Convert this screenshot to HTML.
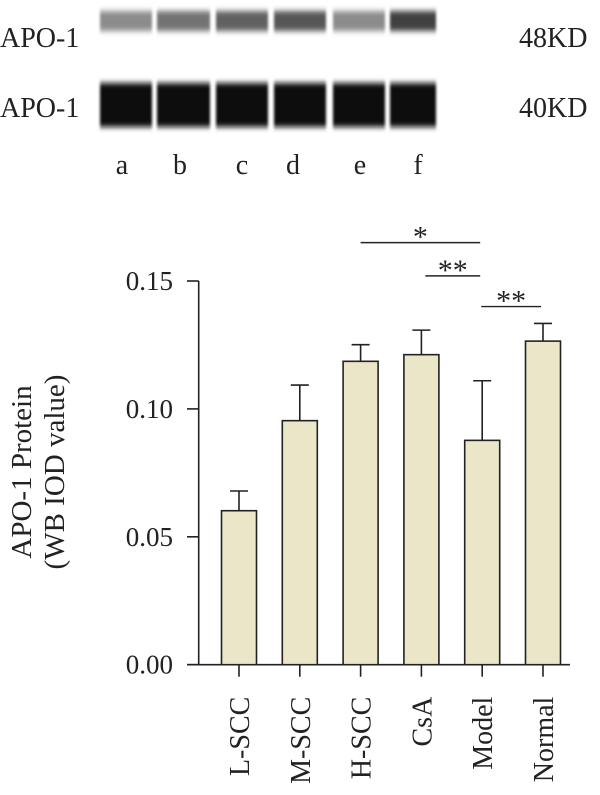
<!DOCTYPE html>
<html><head><meta charset="utf-8"><style>
body{margin:0;background:#fff;width:600px;height:790px;overflow:hidden;font-family:"Liberation Serif",serif;}
</style></head><body>
<svg width="600" height="790" xmlns="http://www.w3.org/2000/svg">
<defs><filter id="bl" x="-20%" y="-50%" width="140%" height="200%"><feGaussianBlur stdDeviation="1.2 3"/></filter></defs>
<g id="blot"></g>
<g font-family="Liberation Serif, serif" font-size="28" fill="#222">
<text x="0" y="47">APO-1</text>
<text x="0" y="117">APO-1</text>
<text x="519" y="47">48KD</text>
<text x="519" y="117">40KD</text>
</g>
<g id="lanes" font-family="Liberation Serif, serif" font-size="28" fill="#222" text-anchor="middle"></g>
<g id="chart"></g>
<g font-family="Liberation Serif, serif" font-size="29" fill="#222" text-anchor="middle">
<text transform="translate(31,472) rotate(-90)">APO-1 Protein</text>
<text transform="translate(64,472) rotate(-90)">(WB IOD value)</text>
</g>
</svg>
<script>
const NS='http://www.w3.org/2000/svg';
const lanes=['a','b','c','d','e','f'];
const topBandDark=[0.45,0.55,0.62,0.66,0.45,0.75];
const categories=['L-SCC','M-SCC','H-SCC','CsA','Model','Normal'];
const values=[0.0602,0.0954,0.1186,0.1212,0.0877,0.1265];
const errors=[0.0077,0.0139,0.0065,0.0096,0.0233,0.0069];
const yTicks=[0,0.05,0.10,0.15];
const yTickLabels=['0.00','0.05','0.10','0.15'];
const sigFrom=[2,3,4];
const sigTo=[4,4,5];
const sigLabels=['*','**','**'];
const sigLevel=[0.165,0.152,0.140];

function mk(tag,attrs,parent){const e=document.createElementNS(NS,tag);for(const k in attrs)e.setAttribute(k,attrs[k]);parent.appendChild(e);return e;}
const blot=document.getElementById('blot');
const laneX=[100,157,216,274,333,390], laneW=[52,53,52,52,52,46];
lanes.forEach((l,i)=>{
  const g=Math.round(255*(1-topBandDark[i]));
  let r=mk('rect',{x:laneX[i],y:11,width:laneW[i],height:20,fill:`rgb(${g},${g},${g})`,filter:'url(#bl)'},blot);
  
  
  let r2=mk('rect',{x:laneX[i],y:83,width:laneW[i],height:44,fill:'#080808',filter:'url(#bl)'},blot);
  
  
});
const lg=document.getElementById('lanes');
const lanesLX=[122,180,242,293,360,418];
lanes.forEach((l,i)=>{const t=mk('text',{x:lanesLX[i],y:174},lg);t.textContent=l;
  
  });
const ch=document.getElementById('chart');
const y0=664.7, pxPer=2558;
const y=v=>y0-v*pxPer;
const x=i=>239+i*60.8;
const bw=35;
const ax=mk('path',{d:`M198.7 ${y(0.15)} V${y0} M187 ${y0} H570`,stroke:'#222','stroke-width':1.6,fill:'none'},ch);


yTicks.forEach((v,i)=>{
  const tk=mk('line',{x1:187,x2:198.7,y1:y(v),y2:y(v),stroke:'#222','stroke-width':1.6},ch);
  
  
  const t=mk('text',{x:173,y:y(v)+9,'text-anchor':'end','font-size':27,fill:'#222','font-family':'Liberation Serif, serif'},ch);
  t.textContent=yTickLabels[i];
  
  
});
categories.forEach((c,i)=>{
  const cx=x(i);
  const e=mk('path',{d:`M${cx} ${y(values[i])} V${y(values[i]+errors[i])} M${cx-9} ${y(values[i]+errors[i])} H${cx+9}`,stroke:'#222','stroke-width':1.6,fill:'none'},ch);
  
  
  const b=mk('rect',{x:cx-bw/2,y:y(values[i]),width:bw,height:y0-y(values[i]),fill:'#ebe6c8',stroke:'#222','stroke-width':1.6},ch);
  
  
  const tk=mk('line',{x1:cx,x2:cx,y1:y0,y2:y0+12,stroke:'#222','stroke-width':1.6},ch);
  
  
  const t=mk('text',{transform:`translate(${cx+10},${y0+32}) rotate(-90)`,'text-anchor':'end','font-size':28,fill:'#222','font-family':'Liberation Serif, serif'},ch);
  t.textContent=c;
  
  
});
sigLabels.forEach((s,i)=>{
  const x2=x(sigTo[i])-2;
  const x1=x(sigFrom[i])+(i===1?4:0)+(i===2?-1:0);
  const ly=y(sigLevel[i]);
  const l=mk('line',{x1:x1,x2:x2,y1:ly,y2:ly,stroke:'#222','stroke-width':1.4},ch);
  
  
  const t=mk('text',{x:(x1+x2)/2,y:ly+4,'text-anchor':'middle','font-size':30,fill:'#222','font-family':'Liberation Serif, serif'},ch);
  t.textContent=s;
  
  
});
</script>
</body></html>
